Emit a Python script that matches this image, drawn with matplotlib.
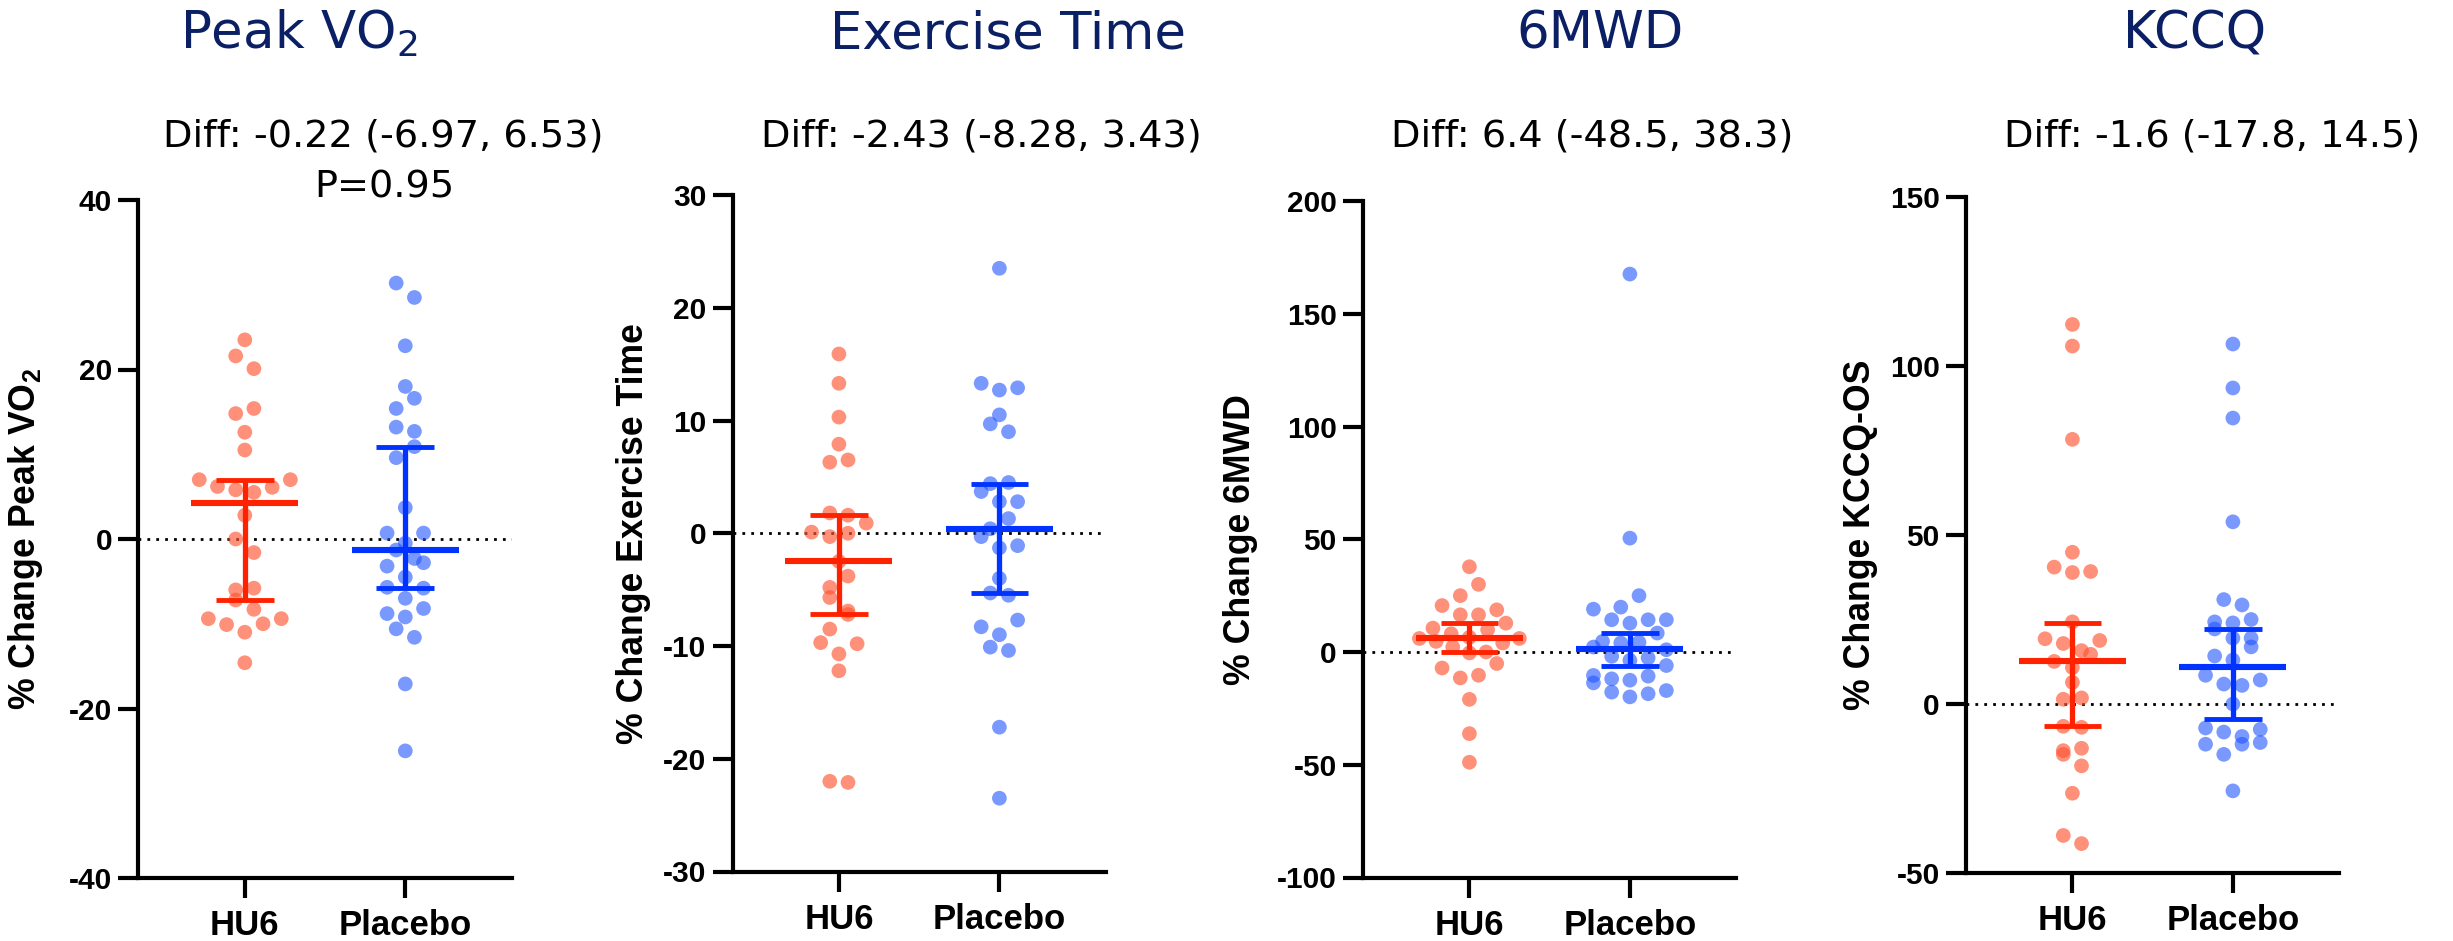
import numpy as np
import matplotlib
matplotlib.use("Agg")
import matplotlib.pyplot as plt

plt.rcParams['axes.unicode_minus'] = False

W, H = 2453, 941

groups = ["HU6", "Placebo"]

# % change from baseline, one value per patient
vo2_hu6 = [23.5, 21.6, 20.1, 15.4, 14.8, 12.6, 10.5, 7.0, 7.0, 6.2, 6.1, 5.8, 5.5,
           2.8, 0.0, -1.6, -5.8, -6.0, -7.2, -8.3, -9.4, -9.4, -10.0, -10.1, -11.0, -14.6]
vo2_pbo = [30.2, 28.5, 22.8, 18.0, 16.6, 15.4, 13.2, 12.7, 10.9, 9.6, 3.7, 0.7, 0.7,
           -0.5, -1.3, -2.3, -2.8, -3.2, -4.5, -5.7, -5.8, -7.0, -8.2, -8.8, -9.2,
           -10.6, -11.6, -17.1, -25.0]

ex_hu6 = [15.9, 13.3, 10.3, 7.9, 6.5, 6.3, 1.8, 1.6, 0.9, 0.1, 0.0, -0.3, -2.5, -3.8,
          -4.8, -5.7, -6.9, -7.2, -8.5, -9.7, -9.8, -10.7, -12.2, -22.0, -22.1]
ex_pbo = [23.5, 13.3, 12.9, 12.7, 10.5, 9.7, 9.0, 4.5, 4.4, 3.7, 2.8, 2.8, 1.3, 0.4,
          -0.3, -1.1, -1.3, -4.0, -5.3, -5.5, -7.7, -8.3, -9.0, -10.1, -10.4, -17.2, -23.5]

mwd_hu6 = [37.8, 30.0, 25.0, 20.6, 18.7, 16.5, 16.5, 12.8, 10.6, 9.9, 8.1, 6.5, 6.0,
           6.0, 4.7, 4.0, 2.2, 0.0, -0.4, -5.1, -7.1, -10.3, -11.5, -21.0, -36.2, -48.9]
mwd_pbo = [167.6, 50.5, 25.0, 19.9, 19.0, 14.3, 14.3, 14.3, 12.8, 8.4, 4.7, 4.3, 4.0,
           2.2, 1.0, -1.9, -2.6, -3.7, -6.0, -10.4, -10.7, -11.9, -12.5, -13.7, -17.1,
           -17.8, -18.5, -19.9]

kccq_hu6 = [112.3, 105.9, 78.3, 44.9, 40.5, 39.2, 38.9, 24.3, 19.3, 18.8, 17.9, 15.8,
            14.7, 12.6, 10.8, 6.4, 1.8, 1.4, -6.6, -6.9, -13.1, -13.8, -14.9, -18.3,
            -26.4, -38.9, -41.3]
kccq_pbo = [106.5, 93.5, 84.6, 53.9, 30.9, 29.3, 25.0, 24.3, 24.0, 22.2, 19.5, 19.5,
            16.9, 14.2, 13.0, 8.5, 7.1, 5.9, 5.5, 0.0, -7.1, -7.5, -8.3, -9.6, -11.4,
            -11.9, -11.9, -14.9, -25.7]

# median, 25th and 75th percentile per group
vo2_stats = [(4.2, -7.2, 7.0), (-1.3, -5.8, 10.9)]
ex_stats = [(-2.5, -7.2, 1.6), (0.4, -5.3, 4.4)]
mwd_stats = [(6.3, 0.0, 12.8), (1.3, -6.0, 8.4)]
kccq_stats = [(12.6, -6.6, 24.0), (10.8, -4.4, 22.2)]

titles = [r"Peak VO$_2$", "Exercise Time", "6MWD", "KCCQ"]
diffs = ["Diff: -0.22 (-6.97, 6.53)", "Diff: -2.43 (-8.28, 3.43)",
         "Diff: 6.4 (-48.5, 38.3)", "Diff: -1.6 (-17.8, 14.5)"]
ylabels = [r"% Change Peak VO$_\mathregular{2}$", "% Change Exercise Time",
           "% Change 6MWD", "% Change KCCQ-OS"]

panels = [
    dict(data=(vo2_hu6, vo2_pbo), stats=vo2_stats, ylim=(-40, 40), step=20,
         box=(138.4, 200, 878), title_x=299, diff_x=383, label_x=-0.249),
    dict(data=(ex_hu6, ex_pbo), stats=ex_stats, ylim=(-30, 30), step=10,
         box=(732.5, 195, 871.5), title_x=1008, diff_x=981, label_x=-0.2185),
    dict(data=(mwd_hu6, mwd_pbo), stats=mwd_stats, ylim=(-100, 200), step=50,
         box=(1363, 201, 877.5), title_x=1600, diff_x=1592, label_x=-0.28),
    dict(data=(kccq_hu6, kccq_pbo), stats=kccq_stats, ylim=(-50, 150), step=50,
         box=(1966, 197, 873), title_x=2195, diff_x=2212, label_x=-0.236),
]

dot_colors = [("#FF5533", 0.65), ("#2255FF", 0.6)]
bar_colors = ["#FF2200", "#0033FF"]
navy = "#0A1F64"
axes_w = 373.3
xlim = (-0.663, 1.663)
dot_d = 14.7  # px


def swarm(values, px_y, px_x, d, max_half=50.0):
    # Prism-like scatter: group values into rows one dot high,
    # then spread each row sideways around the centre
    vals = np.asarray(values, dtype=float)
    order = np.argsort(vals)
    rows, cur = [], [order[0]]
    for i in order[1:]:
        if (vals[i] - vals[cur[0]]) * px_y < d:
            cur.append(i)
        else:
            rows.append(cur)
            cur = [i]
    rows.append(cur)

    offs = np.zeros(len(vals))
    for r, row in enumerate(rows):
        n = len(row)
        if n == 1:
            continue
        step = min(1.24 * d, 2 * max_half / (n - 1))
        slots = [(j - (n - 1) / 2) * step for j in range(n)]
        # fill slots from the middle outwards
        slots.sort(key=lambda s: (abs(s), s if r % 2 else -s))
        for i, s in zip(row, slots):
            offs[i] = s / px_x
    return offs


fig = plt.figure(figsize=(W / 100, H / 100), dpi=100)

for k, p in enumerate(panels):
    left, top, bottom = p["box"]
    ax = fig.add_axes([left / W, 1 - bottom / H, axes_w / W, (bottom - top) / H])
    ymin, ymax = p["ylim"]
    ax.set_xlim(*xlim)
    ax.set_ylim(ymin, ymax)

    px_y = (bottom - top) / (ymax - ymin)
    px_x = axes_w / (xlim[1] - xlim[0])

    ax.axhline(0, color="black", lw=2.0, ls=(0, (1, 2.2)), zorder=1)

    for g, vals in enumerate(p["data"]):
        offs = swarm(vals, px_y, px_x, dot_d)
        col, a = dot_colors[g]
        ax.scatter(g + offs, vals, s=(dot_d * 0.72) ** 2, color=col, alpha=a,
                   edgecolors="none", zorder=2)
        med, q1, q3 = p["stats"][g]
        c = bar_colors[g]
        ax.vlines(g, q1, q3, color=c, lw=3.8, zorder=3)
        ax.hlines([q1, q3], g - 0.18, g + 0.18, color=c, lw=3.5, zorder=3)
        ax.hlines(med, g - 0.333, g + 0.333, color=c, lw=4.4, zorder=3)

    for side in ["top", "right"]:
        ax.spines[side].set_visible(False)
    for side in ["left", "bottom"]:
        ax.spines[side].set_linewidth(3.0)
    ax.set_yticks(np.arange(ymin, ymax + 1, p["step"]))
    ax.set_xticks([0, 1])
    ax.set_xticklabels(groups)
    ax.tick_params(axis="both", length=14.4, width=3.0)
    ax.tick_params(axis="y", pad=4.5)
    ax.tick_params(axis="x", pad=8)
    for lab in ax.get_yticklabels():
        lab.set_fontfamily("Liberation Sans")
        lab.set_fontweight("bold")
        lab.set_fontsize(21.5)
    for lab in ax.get_xticklabels():
        lab.set_fontfamily("Liberation Sans")
        lab.set_fontweight("bold")
        lab.set_fontsize(25)

    ax.set_ylabel(ylabels[k], fontfamily="Liberation Sans", fontweight="bold",
                  fontsize=25.7)
    ax.yaxis.set_label_coords(p["label_x"], 0.5)

    fig.text(p["title_x"] / W, 1 - 48.3 / H, titles[k], ha="center", va="baseline",
             fontsize=37, color=navy, fontfamily="DejaVu Sans")
    fig.text(p["diff_x"] / W, 1 - 146 / H, diffs[k], ha="center", va="baseline",
             fontsize=27.5, color="black", fontfamily="DejaVu Sans")

fig.text(384 / W, 1 - 198 / H, "P=0.95", ha="center", va="baseline",
         fontsize=27.5, color="black", fontfamily="DejaVu Sans")

fig.savefig("out.png", dpi=100)
